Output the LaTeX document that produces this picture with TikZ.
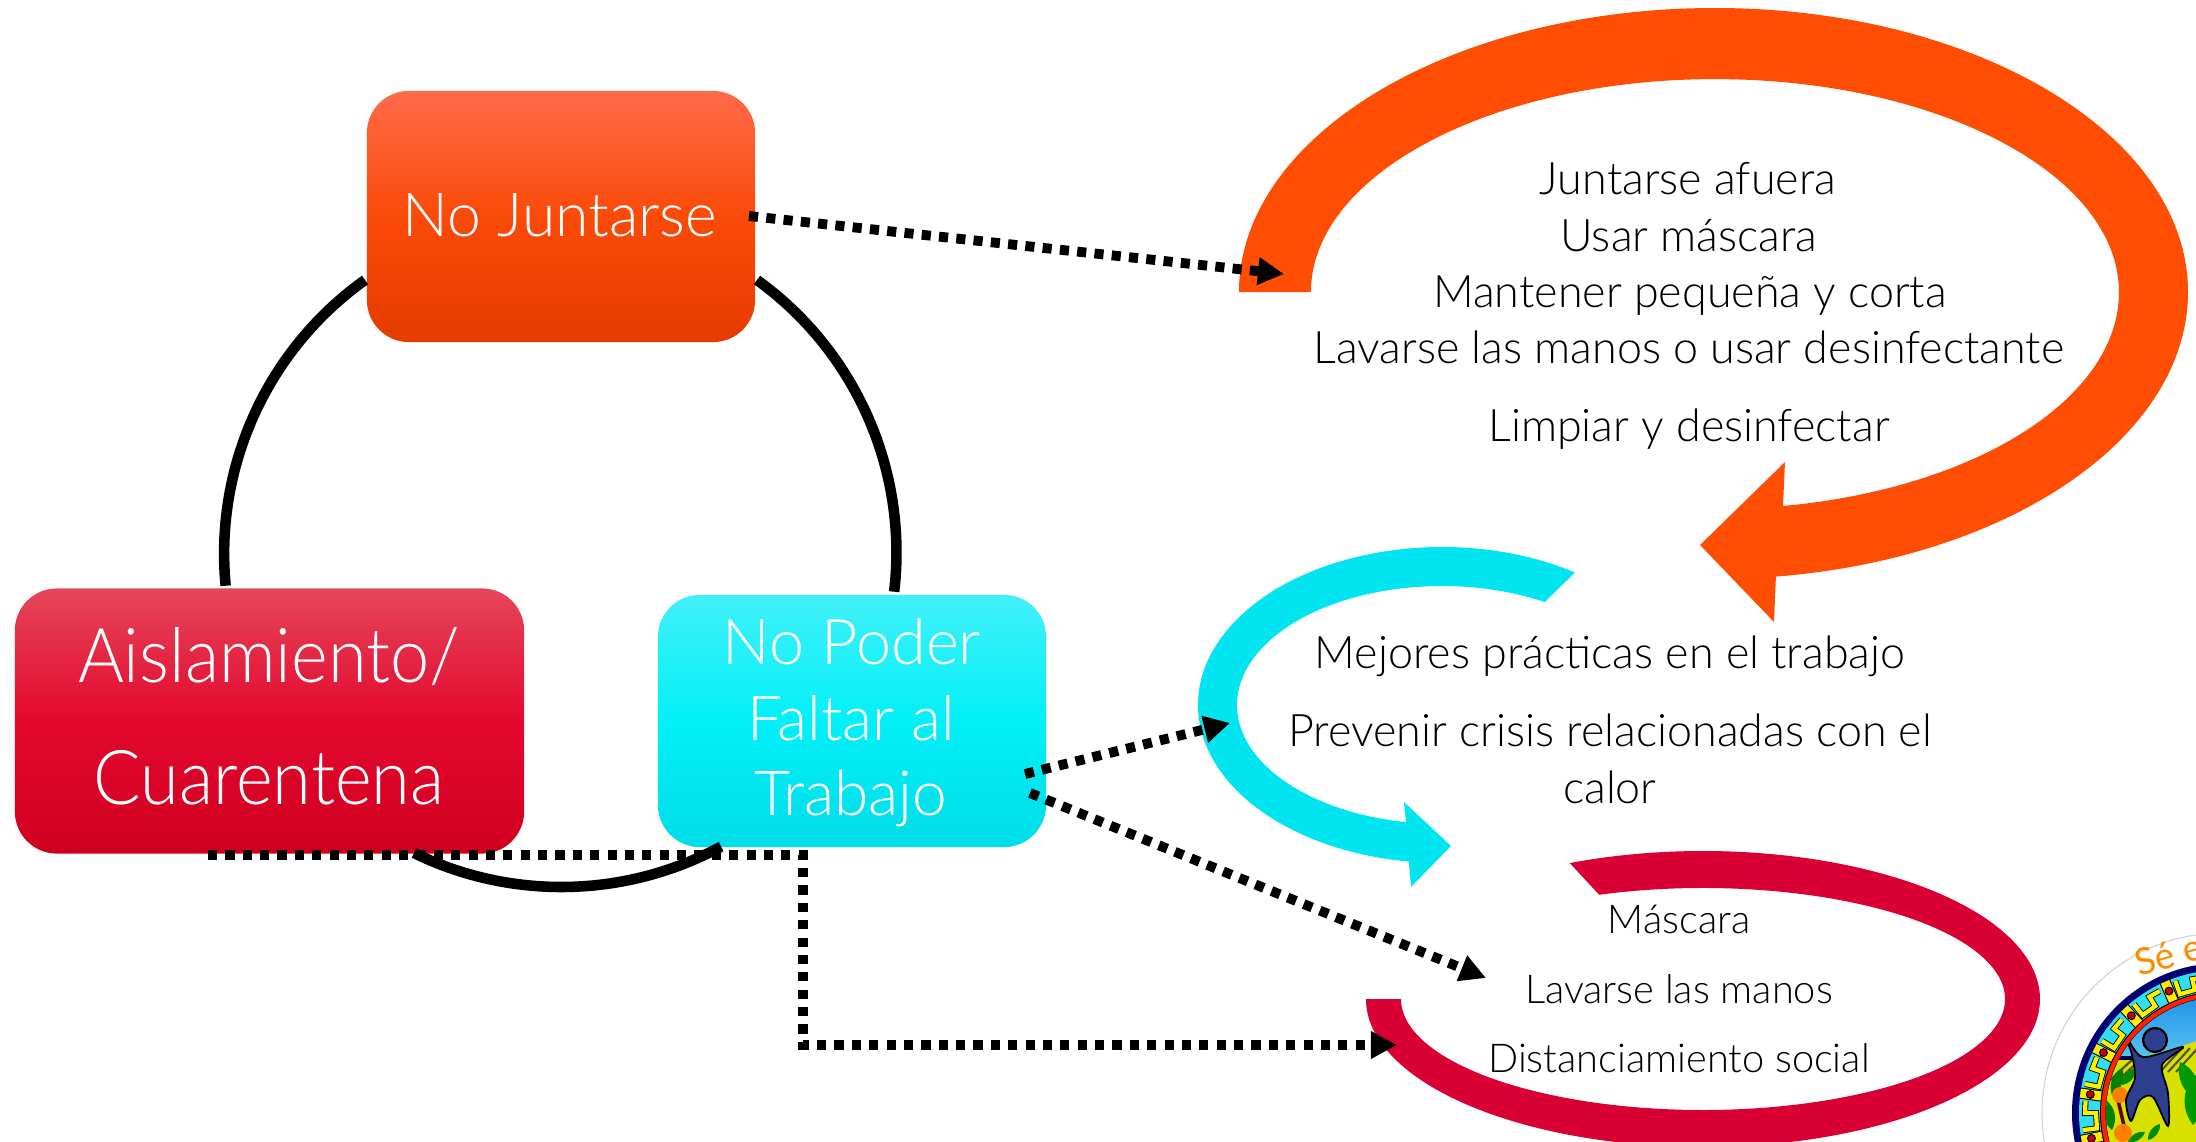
\documentclass[tikz,border=0pt]{standalone}
\usepackage{fontspec}
\setmainfont{Lato Light}
\newfontfamily\logofont{Lato}
\newfontfamily\narrowfont[FakeStretch=0.93]{Lato Light}
\usetikzlibrary{arrows.meta,shadings}
\definecolor{cOrange}{HTML}{FF4E03}
\definecolor{cCyan}{HTML}{00E5EF}
\definecolor{cRed}{HTML}{D90033}
\definecolor{orange1}{HTML}{FF6A4A}
\definecolor{orange2}{HTML}{FA4A08}
\definecolor{orange3}{HTML}{E63C00}
\definecolor{red1}{HTML}{E5475A}
\definecolor{red2}{HTML}{E3082E}
\definecolor{red3}{HTML}{D00020}
\definecolor{cy1}{HTML}{42F0F8}
\definecolor{cy2}{HTML}{02F0F8}
\definecolor{cy3}{HTML}{00DDE8}
\definecolor{logocy}{HTML}{30DFF5}
\definecolor{logosky}{HTML}{1E8CE8}
\definecolor{logosky2}{HTML}{5AC8F0}
\definecolor{logoy}{HTML}{D8E000}
\definecolor{logofig}{HTML}{2F3F90}
\tikzset{
  boxbase/.style={rectangle,rounded corners=0.42cm,inner sep=0pt},
  njbox/.style={boxbase,top color=orange1,bottom color=orange3,middle color=orange2},
  ring/.style={line width=3pt,black},
  dots/.style={line width=2.8pt,black,dash pattern=on 2.6pt off 2.34pt,-{Triangle[length=0.26cm,width=0.26cm]}},
  whitetxt/.style={text=white,anchor=base,inner sep=0pt},
  bodytxt/.style={text=black,anchor=base,inner sep=0pt,font=\fontsize{12.75}{14}\selectfont},
  smalltxt/.style={text=black,anchor=base,inner sep=0pt,font=\fontsize{11.3}{13}\selectfont},
}
\newcommand{\lgp}[2]{({2222+(#1)*cos(#2)},{1113+(#1)*sin(#2)})}
\newcommand{\leaf}[5][]{\fill[#1] (#2,#3) to[bend left=40] (#4,#5) to[bend left=40] (#2,#3);}
\begin{document}
\begin{tikzpicture}[x=0.01cm,y=-0.01cm]
\useasboundingbox (0,0) rectangle (2196,1142);
% boxes
\node[njbox,minimum width=3.88cm,minimum height=2.51cm] (nj) at (561,216.5) {};
\node[boxbase,top color=red1,bottom color=red3,middle color=red2,minimum width=5.09cm,minimum height=2.65cm] (ais) at (269.5,721) {};
\node[boxbase,top color=cy1,bottom color=cy3,middle color=cy2,minimum width=3.88cm,minimum height=2.52cm] (np) at (852,721) {};
% box texts
\node[whitetxt,font=\fontsize{17.25}{20}\selectfont] (njt) at (560,236) {No Juntarse};
\node[whitetxt,font=\narrowfont\fontsize{21.5}{24}\selectfont] (ais1) at (269,682) {Aislamiento/};
\node[whitetxt,font=\narrowfont\fontsize{21.5}{24}\selectfont] (ais2) at (269,804) {Cuarentena};
\node[whitetxt,font=\fontsize{17.9}{20}\selectfont] (np1) at (852,664) {No Poder};
\node[whitetxt,font=\fontsize{17.6}{20}\selectfont] (np2) at (851,740) {Faltar al};
\node[whitetxt,font=\fontsize{17.7}{20}\selectfont] (np3) at (851,815) {Trabajo};
% connector end points
\coordinate (d1s) at (749,216);
\coordinate (d1e) at (1284,274);
\coordinate (d2s) at (1025,774);
\coordinate (d2e) at (1230,723);
\coordinate (d3s) at (1030,793);
\coordinate (d3e) at (1486,978);
\coordinate (d4s) at (208,855);
\coordinate (d4a) at (803,855);
\coordinate (d4b) at (803,1045);
\coordinate (d4e) at (1397,1045);
% large curved arrows
\fill[cOrange] (1239,292) arc[start angle=180,end angle=270,x radius=476,y radius=284]
  arc[start angle=270,end angle=360,x radius=473,y radius=284]
  arc[start angle=0,end angle=82.6,x radius=473,y radius=287]
  -- (1774,622) -- (1700,545) -- (1785,462) -- (1783,506)
  arc[start angle=80.3,end angle=0,x radius=404,y radius=217]
  arc[start angle=360,end angle=180,x radius=404,y radius=213] -- cycle;
\fill[cCyan] ({1442+244*cos(303)},{705+158*sin(303)}) arc[start angle=303,end angle=97.8,x radius=244,y radius=158]
  -- (1411,887) -- (1451,846) -- (1404,802) -- ({1442+205*cos(100.1)},{705+119*sin(100.1)})
  arc[start angle=100.1,end angle=300.1,x radius=205,y radius=119] -- cycle;
\begin{scope}
\clip (0,0) rectangle (2196,1142);
\fill[cRed] (1366,999) arc[start angle=180,end angle=-113.3,x radius=337,y radius=148]
  -- ({1703+302*cos(-110.1)},{999+111*sin(-110.1)})
  arc[start angle=-110.1,end angle=180,x radius=302,y radius=111] -- cycle;
\end{scope}
% dotted connectors
\draw[dots] (d1s) -- (d1e);
\draw[dots] (d2s) -- (d2e);
\draw[dots] (d3s) -- (d3e);
\draw[dots] (d4s) -- (d4a) -- (d4b) -- (d4e);
% ring
\draw[ring] (365,280) arc[start angle=234.5,end angle=174.5,radius=336];
\draw[ring] (757,280) arc[start angle=-54.2,end angle=6.7,radius=336];
\draw[ring] (414,853) arc[start angle=116,end angle=61.6,radius=336];
% right texts
\node[bodytxt] (o1) at (1688,194) {Juntarse afuera};
\node[bodytxt] (o2) at (1689,251) {Usar máscara};
\node[bodytxt] (o3) at (1690,307) {Mantener pequeña y corta};
\node[bodytxt] (o4) at (1689,363) {Lavarse las manos o usar desinfectante};
\node[bodytxt] (o5) at (1689,441) {Limpiar y desinfectar};
\node[bodytxt] (c1) at (1610,668) {Mejores prácticas en el trabajo};
\node[bodytxt] (c2) at (1610,746) {Prevenir crisis relacionadas con el};
\node[bodytxt] (c3) at (1610,803) {calor};
\node[smalltxt] (r1) at (1679,933) {Máscara};
\node[smalltxt] (r2) at (1679,1003) {Lavarse las manos};
\node[smalltxt] (r3) at (1679,1072) {Distanciamiento social};
% logo
\begin{scope}
\clip (0,0) rectangle (2196,1142);
\draw[black!18,line width=0.3pt] (2222,1113) circle[radius=180];
\node[text=orange!90!yellow,anchor=base west,inner sep=0pt,rotate=16,font=\logofont\fontsize{10.5}{12}\selectfont] (logot) at (2139,977) {Sé el};
\fill[blue!45!black] (2222,1113) circle[radius=150];
\fill[logocy] (2222,1113) circle[radius=143];
\foreach \a in {150,169,188,207,227,246.5}{
  \draw[black,line width=1.7pt] \lgp{140}{\a+4} -- \lgp{126}{\a+4} -- \lgp{126}{\a+11} -- \lgp{137}{\a+11} -- \lgp{137}{\a+16};
  \draw[yellow,line width=1.2pt] \lgp{140}{\a+4} -- \lgp{126}{\a+4} -- \lgp{126}{\a+11} -- \lgp{137}{\a+11} -- \lgp{137}{\a+16};
}
\foreach \a in {169,188,207,227,246.5}{
  \draw[black,line width=3.2pt] \lgp{122}{\a} -- \lgp{143}{\a};
  \draw[yellow!95!orange,line width=2.6pt] \lgp{122}{\a} -- \lgp{143}{\a};
  \fill[black] \lgp{133}{\a} circle[radius=4.5];
  \fill[red!80!black] \lgp{133}{\a} circle[radius=3.2];
}
\fill[black] (2222,1113) circle[radius=122];
\fill[red!75!orange] (2222,1113) circle[radius=121];
\fill[black] (2222,1113) circle[radius=116.5];
\begin{scope}
\clip (2222,1113) circle[radius=116];
\shade[top color=logosky,bottom color=logosky2] (2090,990) rectangle (2200,1062);
\fill[logoy] (2090,1056) rectangle (2200,1142);
\fill[logoy] (2130,1060) -- (2170,1050) -- (2200,1040) -- (2200,1070) -- cycle;
\foreach \i in {0,1,2}{
  \draw[black!50!olive,line width=0.6pt] (2108+\i*8,1082) -- (2132+\i*8,1060);
  \draw[black!50!olive,line width=0.6pt] (2160+\i*8,1072) -- (2182+\i*8,1048);
}
\draw[black!70!blue,line width=1pt] (2100,1058) -- (2135,1058);
\leaf[green!50!black]{2112}{1095}{2122}{1068}
\leaf[green!55!black]{2122}{1085}{2136}{1068}
\leaf[green!50!black]{2106}{1100}{2112}{1130}
\leaf[green!55!black]{2148}{1140}{2160}{1124}
\leaf[green!55!black]{2128}{1142}{2145}{1132}
\leaf[green!60!black]{2180}{1062}{2198}{1100}
\leaf[green!60!black]{2195}{1075}{2193}{1125}
\draw[red!40!black,line width=1pt] (2118,1100) -- (2125,1130);
\fill[orange] (2120,1095) circle[radius=8];
\fill[orange] (2123,1133) circle[radius=9];
\filldraw[fill=logofig,draw=black,line width=0.5pt] plot[smooth cycle,tension=0.5] coordinates {(2127,1038) (2143,1057) (2183,1047) (2162,1065) (2168,1093) (2168,1126) (2153,1097) (2140,1100) (2131,1121) (2126,1100) (2135,1078) (2132,1055)};
\filldraw[fill=logofig,draw=black,line width=0.6pt] (2155,1040) circle[radius=12];
\end{scope}
\end{scope}
\end{tikzpicture}
\end{document}
